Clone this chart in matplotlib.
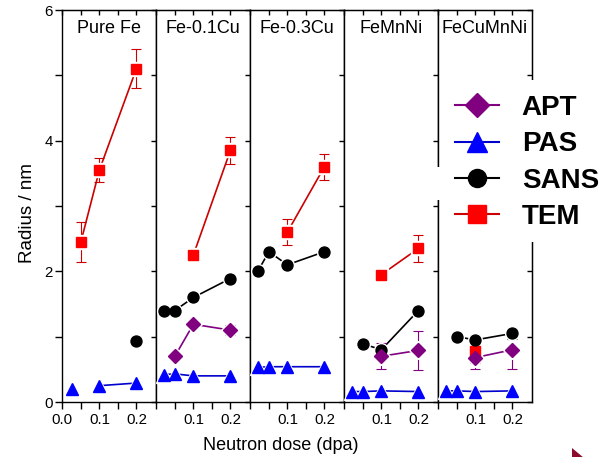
import numpy as np
import matplotlib.pyplot as plt
from matplotlib.lines import Line2D
from matplotlib.patches import Rectangle, Polygon

plt.rcParams['font.family'] = ['Liberation Sans', 'DejaVu Sans']

# ----------------------------------------------------------------
#  Cluster radius vs neutron dose, one panel per alloy
# ----------------------------------------------------------------
alloys = ['Pure Fe', 'Fe-0.1Cu', 'Fe-0.3Cu', 'FeMnNi', 'FeCuMnNi']

# TEM
tem_dose   = [[0.05, 0.1, 0.2], [0.1, 0.2], [0.1, 0.2], [0.1, 0.2], [0.1]]
tem_radius = [[2.45, 3.55, 5.1], [2.25, 3.85], [2.6, 3.6], [1.95, 2.35], [0.78]]
tem_err    = [[0.3, 0.18, 0.3], [0.05, 0.2], [0.2, 0.2], [0.05, 0.2], [0.18]]

# SANS
sans_dose   = [[0.2], [0.02, 0.05, 0.1, 0.2], [0.02, 0.05, 0.1, 0.2],
               [0.05, 0.1, 0.2], [0.05, 0.1, 0.2]]
sans_radius = [[0.94], [1.4, 1.4, 1.6, 1.89], [2.0, 2.3, 2.1, 2.3],
               [0.89, 0.8, 1.4], [1.0, 0.95, 1.05]]
sans_err    = [[0.07], [0.05, 0.05, 0.06, 0.07], [0.05, 0.05, 0.05, 0.05],
               [0.07, 0.07, 0.07], [0.07, 0.08, 0.08]]

# APT
apt_dose   = [[], [0.05, 0.1, 0.2], [], [0.1, 0.2], [0.1, 0.2]]
apt_radius = [[], [0.7, 1.19, 1.1], [], [0.7, 0.79], [0.68, 0.8]]
apt_err    = [[], [0.05, 0.06, 0.08], [], [0.2, 0.3], [0.17, 0.3]]

# PAS (first Pure Fe point stands alone)
pas_dose   = [[0.025, 0.1, 0.2], [0.02, 0.05, 0.1, 0.2], [0.02, 0.05, 0.1, 0.2],
              [0.02, 0.05, 0.1, 0.2], [0.02, 0.05, 0.1, 0.2]]
pas_radius = [[0.2, 0.25, 0.29], [0.42, 0.43, 0.4, 0.4], [0.53, 0.54, 0.54, 0.54],
              [0.16, 0.16, 0.17, 0.16], [0.17, 0.17, 0.16, 0.17]]
pas_join_from = [1, 0, 0, 0, 0]

STYLES = {
    'APT':  dict(marker='D', face='#800080', line='#800080', ms=6.9, lms=12.0),
    'PAS':  dict(marker='^', face='#0000ff', line='#0000cc', ms=9.2, lms=14.0),
    'SANS': dict(marker='o', face='#000000', line='#000000', ms=7.9, lms=13.0),
    'TEM':  dict(marker='s', face='#ff0000', line='#cc0000', ms=7.4, lms=12.5),
}

W, H = 606, 457
LEFT, RIGHT, TOP, BOTTOM = 62, 532, 10, 402


def fig_xy(x, y):
    """Pixel position (from top-left) -> figure fraction."""
    return x / W, 1 - y / H


def draw_series(ax, x, y, err, st, join_from=0):
    x = np.asarray(x, dtype=float)
    y = np.asarray(y, dtype=float)
    if len(x) == 0:
        return
    if len(x) - join_from > 1:
        ax.plot(x[join_from:], y[join_from:], color=st['line'], lw=1.2, zorder=2)
    if err is not None:
        ax.errorbar(x, y, yerr=err, fmt='none', ecolor=st['line'],
                    elinewidth=0.8, capsize=3.5, capthick=0.8, zorder=2)
    # white halo leaves a small gap between line and symbol
    ax.plot(x, y, ls='none', marker=st['marker'], ms=st['ms'] + 2.0,
            mfc='white', mec='white', zorder=3)
    ax.plot(x, y, ls='none', marker=st['marker'], ms=st['ms'],
            mfc=st['face'], mec=st['face'], zorder=4)


fig = plt.figure(figsize=(W / 100, H / 100), dpi=100)

pw = (RIGHT - LEFT) / 5
axes = []
for i, name in enumerate(alloys):
    x0, y0 = fig_xy(LEFT + i * pw, BOTTOM)
    ax = fig.add_axes([x0, y0, pw / W, (BOTTOM - TOP) / H])
    axes.append(ax)

    draw_series(ax, tem_dose[i], tem_radius[i], tem_err[i], STYLES['TEM'])
    draw_series(ax, sans_dose[i], sans_radius[i], sans_err[i], STYLES['SANS'])
    draw_series(ax, apt_dose[i], apt_radius[i], apt_err[i], STYLES['APT'])
    draw_series(ax, pas_dose[i], pas_radius[i], None, STYLES['PAS'],
                join_from=pas_join_from[i])

    ax.set_xlim(-0.001, 0.253)
    ax.set_ylim(0, 6)

    ax.set_xticks([0, 0.05, 0.1, 0.15, 0.2])
    ax.set_xticklabels(['0.0' if i == 0 else '', '', '0.1', '', '0.2'])
    ax.tick_params(axis='x', direction='out', length=5, width=1,
                   labelsize=10.8, pad=3)

    ax.set_yticks(range(7))
    if i == 0:
        ax.set_yticklabels(['0', '', '2', '', '4', '', '6'])
        ax.tick_params(axis='y', direction='out', length=5, width=1,
                       labelsize=10.8, pad=1.5)
    else:
        ax.tick_params(axis='y', length=0, labelleft=False)

    top = ax.secondary_xaxis('top')
    top.set_xticks([0, 0.05, 0.1, 0.15, 0.2])
    top.tick_params(direction='in', length=3.6, width=1, labeltop=False)
    right = ax.secondary_yaxis('right')
    right.set_yticks(range(7))
    right.tick_params(direction='in', length=3.6, width=1, labelright=False)

    for sp in ax.spines.values():
        sp.set_linewidth(1.0)

    ax.text(0.5, 0.953, name, transform=ax.transAxes, ha='center',
            va='center', fontsize=13)

fig.text(*fig_xy(281, 446), 'Neutron dose (dpa)', ha='center', va='center',
         fontsize=13)
fig.text(*fig_xy(28, 213), 'Radius / nm', ha='center', va='center',
         rotation=90, fontsize=13.5)

# white backing behind the legend
bx, by = fig_xy(444, 242)
fig.patches.append(Rectangle((bx, by), (W - 444) / W, (242 - 80) / H,
                             transform=fig.transFigure, facecolor='white',
                             edgecolor='none', zorder=5))
sx, sy = fig_xy(433, 200)
fig.patches.append(Rectangle((sx, sy), 11 / W, 33 / H,
                             transform=fig.transFigure, facecolor='white',
                             edgecolor='none', zorder=5))

handles = []
labels = ['APT', 'PAS', 'SANS', 'TEM']
for lab in labels:
    st = STYLES[lab]
    handles.append(Line2D([], [], color=st['line'], lw=1.5, marker=st['marker'],
                          ms=st['lms'], mfc=st['face'], mec=st['face']))
leg = fig.legend(handles, labels, loc='upper left',
                 bbox_to_anchor=fig_xy(455, 95), frameon=False,
                 prop={'weight': 'bold', 'size': 20}, handlelength=1.6,
                 handletextpad=0.8, labelspacing=0.37, borderpad=0,
                 borderaxespad=0)
leg.set_zorder(10)

# small navigation arrow in the lower right corner
fig.patches.append(Polygon([fig_xy(572, 448), fig_xy(572, 468), fig_xy(584, 458)],
                           closed=True, transform=fig.transFigure,
                           facecolor='#8c0a2a', edgecolor='none', zorder=5))

fig.savefig('out.png', dpi=100)
